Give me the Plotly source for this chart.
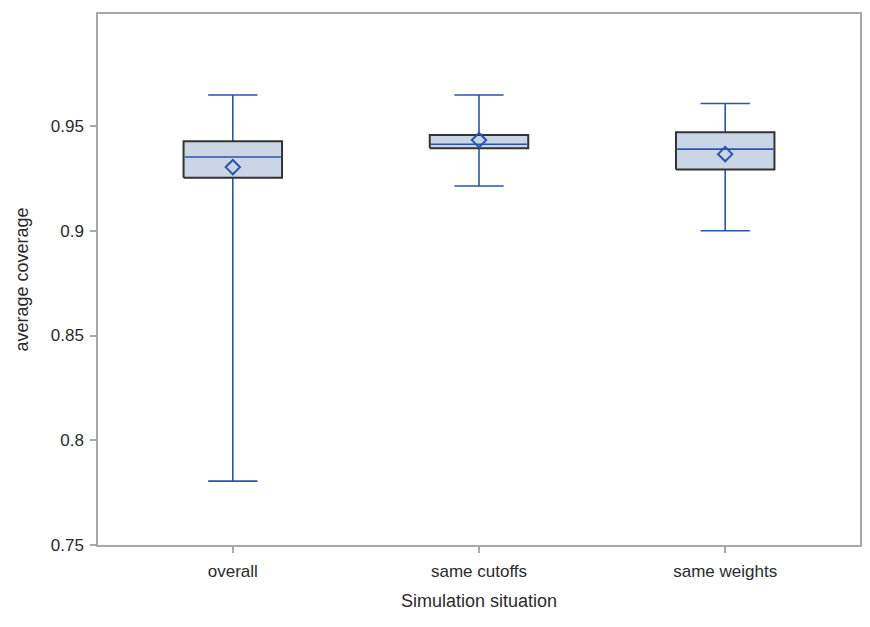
import plotly.graph_objects as go

categories = ["overall", "same cutoffs", "same weights"]
upper = [0.9648, 0.9648, 0.9608]
q3 = [0.9428, 0.9457, 0.9470]
median = [0.9352, 0.9413, 0.9390]
mean = [0.9304, 0.9433, 0.9366]
q1 = [0.9253, 0.9394, 0.9293]
lower = [0.7805, 0.9214, 0.9000]

ytick_vals = [0.75, 0.80, 0.85, 0.90, 0.95]
ytick_text = ["0.75", "0.8", "0.85", "0.9", "0.95"]

BLUE = "#2a54ae"
FILL = "#cad5e5"
DARK = "#333333"
GRID = "#a8a8a8"
FONT = "Liberation Sans, Arial, sans-serif"

BW = 0.2   # half box width (category units)
CW = 0.1   # half cap width

fig = go.Figure()

# whiskers and caps
wx, wy = [], []
for i in range(len(categories)):
    wx += [i, i, None, i, i, None, i - CW, i + CW, None, i - CW, i + CW, None]
    wy += [q3[i], upper[i], None, q1[i], lower[i], None,
           upper[i], upper[i], None, lower[i], lower[i], None]
fig.add_trace(go.Scatter(x=wx, y=wy, mode="lines",
                         line=dict(color=BLUE, width=1.6),
                         hoverinfo="skip", showlegend=False))

# boxes
for i in range(len(categories)):
    fig.add_trace(go.Scatter(
        x=[i - BW, i + BW, i + BW, i - BW, i - BW],
        y=[q1[i], q1[i], q3[i], q3[i], q1[i]],
        mode="lines", fill="toself", fillcolor=FILL,
        line=dict(color=DARK, width=2), showlegend=False, hoverinfo="skip"))

# medians
mx, my = [], []
for i in range(len(categories)):
    mx += [i - BW + 0.005, i + BW - 0.005, None]
    my += [median[i], median[i], None]
fig.add_trace(go.Scatter(x=mx, y=my, mode="lines",
                         line=dict(color=BLUE, width=1.6),
                         showlegend=False, hoverinfo="skip"))

# means
fig.add_trace(go.Scatter(x=list(range(len(categories))), y=mean, mode="markers",
                         marker=dict(symbol="diamond-open", size=11,
                                     color=BLUE, line=dict(color=BLUE, width=2)),
                         showlegend=False))

fig.update_layout(
    width=870, height=627,
    margin=dict(l=98, r=8, t=14, b=82),
    paper_bgcolor="white", plot_bgcolor="white",
    font=dict(family=FONT, color="#333333", size=16),
    showlegend=False,
    xaxis=dict(range=[-0.5475, 2.5475], tickvals=[0, 1, 2], ticktext=categories,
               showgrid=False, zeroline=False, showline=True, linecolor=GRID,
               linewidth=1.5, mirror=True, ticks="outside", ticklen=6,
               tickcolor=GRID, tickwidth=1.5, ticklabelstandoff=4,
               tickfont=dict(size=17, color="#2b2b2b"),
               title=dict(text="Simulation situation", font=dict(size=18, color="#2b2b2b"),
                          standoff=14)),
    yaxis=dict(range=[0.75, 1.0035], tickvals=ytick_vals, ticktext=ytick_text,
               showgrid=False, zeroline=False, showline=True, linecolor=GRID,
               linewidth=1.5, mirror=True, ticks="outside", ticklen=6,
               tickcolor=GRID, tickwidth=1.5, ticklabelstandoff=3,
               tickfont=dict(size=17, color="#2b2b2b"),
               title=dict(text="average coverage", font=dict(size=18, color="#2b2b2b"),
                          standoff=17)),
)

fig.write_html("out.html")
